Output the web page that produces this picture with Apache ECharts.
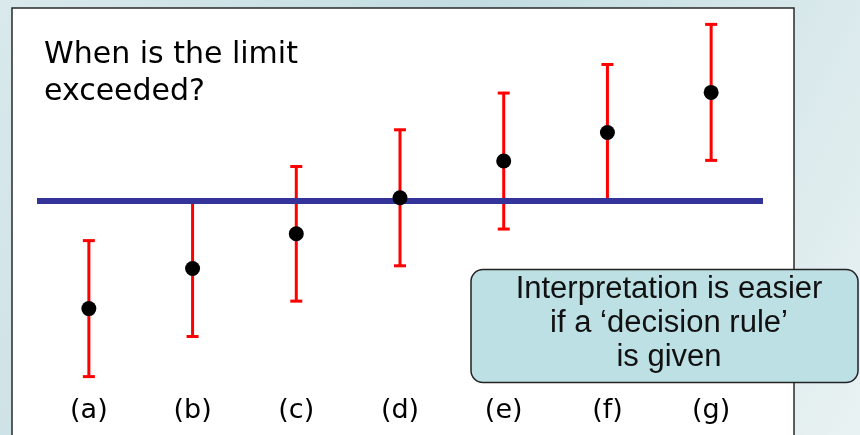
<!DOCTYPE html>
<html>
<head>
<meta charset="utf-8">
<script src="https://cdn.jsdelivr.net/npm/echarts@6/dist/echarts.min.js"></script>
<style>
  html, body { margin: 0; padding: 0; background: #ffffff; }
  #chart { width: 860px; height: 435px; }
</style>
</head>
<body>
<div id="chart"></div>
<script>
// ---- data ----
const categories = ['(a)', '(b)', '(c)', '(d)', '(e)', '(f)', '(g)'];
const measured = [3.41, 4.00, 4.51, 5.04, 5.58, 6.00, 6.59];
const uncertainty = [1.00, 1.00, 0.99, 1.00, 1.00, 1.00, 1.00];
const limitValue = 5;
const titleLines = ['When is the limit', 'exceeded?'];
const calloutLines = ['Interpretation is easier', 'if a \u2018decision rule\u2019', 'is given'];

const errorData = categories.map((c, i) => [i, measured[i] - uncertainty[i], measured[i] + uncertainty[i]]);
const pointData = categories.map((c, i) => [i, measured[i]]);

const chart = echarts.init(document.getElementById('chart'), null, { renderer: 'canvas' });

const option = {
  animation: false,
  backgroundColor: 'transparent',
  grid: { left: 37, right: 97, top: 30.5, bottom: 30.5 },
  xAxis: {
    type: 'category',
    data: categories,
    axisLine: { show: false },
    axisTick: { show: false },
    splitLine: { show: false },
    axisLabel: {
      color: '#000',
      fontFamily: 'DejaVu Sans',
      fontSize: 27,
      verticalAlign: 'middle',
      margin: 6
    }
  },
  yAxis: {
    type: 'value',
    min: 2,
    max: 7.5,
    show: false,
    splitLine: { show: false }
  },
  graphic: [
    {
      type: 'rect', z: -20, silent: true,
      shape: { x: 0, y: 0, width: 860, height: 435 },
      style: {
        fill: new echarts.graphic.LinearGradient(0, 0, 1, 1, [
          { offset: 0, color: '#d9e9ec' },
          { offset: 0.45, color: '#c2dce1' },
          { offset: 1, color: '#e9f2f3' }
        ])
      }
    },
    {
      type: 'rect', z: -10, silent: true,
      shape: { x: 12, y: 8, width: 782, height: 440 },
      style: { fill: '#ffffff', stroke: '#2a2a2a', lineWidth: 1.5 }
    },
    {
      type: 'text', z: 10, silent: true,
      x: 44, y: 37,
      style: {
        text: titleLines.join('\n'),
        font: '30px "DejaVu Sans"',
        fill: '#000',
        lineHeight: 37,
        textAlign: 'left',
        textVerticalAlign: 'top'
      }
    },
    {
      type: 'rect', z: 20, silent: true,
      shape: { x: 471, y: 269.5, width: 387, height: 113, r: 12 },
      style: { fill: '#bce0e3', stroke: '#222', lineWidth: 1.5 }
    },
    {
      type: 'text', z: 21, silent: true,
      x: 669, y: 272,
      style: {
        text: calloutLines.join('\n'),
        font: '31px "Liberation Sans"',
        fill: '#111',
        lineHeight: 34,
        textAlign: 'center',
        textVerticalAlign: 'top'
      }
    }
  ],
  series: [
    {
      type: 'custom',
      z: 3,
      silent: true,
      data: errorData,
      renderItem: function (params, api) {
        const x = api.value(0);
        const lo = api.coord([x, api.value(1)]);
        const hi = api.coord([x, api.value(2)]);
        const hw = 6;
        const st = { stroke: '#ff0000', lineWidth: 3 };
        return {
          type: 'group',
          children: [
            { type: 'line', shape: { x1: lo[0], y1: lo[1], x2: hi[0], y2: hi[1] }, style: st },
            { type: 'line', shape: { x1: lo[0] - hw, y1: lo[1], x2: lo[0] + hw, y2: lo[1] }, style: st },
            { type: 'line', shape: { x1: hi[0] - hw, y1: hi[1], x2: hi[0] + hw, y2: hi[1] }, style: st }
          ]
        };
      },
      markLine: {
        silent: true,
        symbol: 'none',
        label: { show: false },
        lineStyle: { color: '#333399', width: 6, type: 'solid' },
        data: [{ yAxis: limitValue }]
      }
    },
    {
      type: 'scatter',
      z: 5,
      silent: true,
      data: pointData,
      symbol: 'circle',
      symbolSize: 15,
      itemStyle: { color: '#000', opacity: 1 }
    }
  ]
};

chart.setOption(option);
</script>
</body>
</html>
